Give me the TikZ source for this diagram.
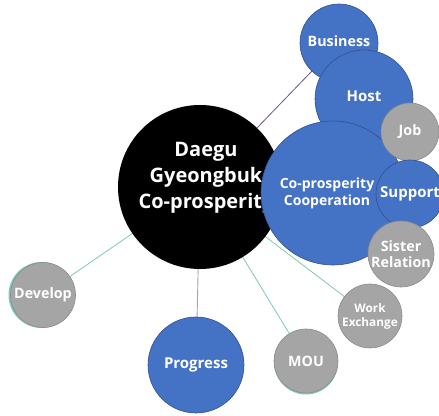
\documentclass[tikz,border=0pt]{standalone}
\usepackage{fontspec}
\setmainfont{Open Sans}
\definecolor{bblue}{HTML}{4472C4}
\definecolor{bblueline}{HTML}{34508F}
\definecolor{bgray}{HTML}{A5A5A5}
\definecolor{bgrayline}{HTML}{8C8C8C}
\definecolor{linkteal}{HTML}{7CC8BE}
\definecolor{linkplum}{HTML}{6A587C}
\definecolor{linklilac}{HTML}{A7A3BE}
\begin{document}
\begin{tikzpicture}[x=1pt,y=1pt,
  bubble/.style={circle, inner sep=0pt, text=white, align=center,
    font=\bfseries\fontsize{14.3}{16}\selectfont},
  bluebub/.style={bubble, fill=bblue, draw=bblueline, line width=0.6pt},
  graybub/.style={bubble, fill=bgray, draw=bgrayline, line width=0.6pt},
  hubbub/.style={circle, inner sep=0pt, fill=black},
  caption/.style={text=white, align=center, inner sep=0pt},
  tealink/.style={draw=linkteal, line width=0.8pt},
  plumlink/.style={draw=linkplum, line width=0.8pt},
  lilaclink/.style={draw=linklilac, line width=0.9pt},
  halo/.style={circle, inner sep=0pt, fill=linkteal}]
\useasboundingbox (0,0) rectangle (439,415);

% hub position and connector anchors
\coordinate (hubc) at (200,228);
\coordinate (businessc) at (339,372);
\coordinate (developc) at (43,120);
\coordinate (progressc) at (196,50);
\coordinate (mouc) at (306,54);
\coordinate (workc) at (370,99);
\coordinate (coopc) at (333,222);

% connectors (behind all bubbles)
\draw[plumlink] (hubc) -- (businessc);
\draw[plumlink] (hubc) -- (coopc);
\draw[tealink] (hubc) -- (developc);
\draw[lilaclink] (hubc) -- (progressc);
\draw[tealink] (hubc) -- (mouc);
\draw[tealink] (hubc) -- (workc);

% lower ring of bubbles
\node[halo, minimum size=66pt] at ([xshift=-1.5pt]developc) {};
\node[graybub, minimum size=65pt] (develop) at (developc) {Develop};
\node[bluebub, minimum size=96pt, font=\bfseries\fontsize{15}{17}\selectfont]
  (progress) at (progressc) {Progress};
\node[halo, minimum size=64pt] at ([yshift=-1.5pt]mouc) {};
\node[graybub, minimum size=64pt] (mou) at (mouc) {MOU};
\node[graybub, minimum size=64pt, font=\bfseries\fontsize{11.8}{14}\selectfont]
  (work) at (workc) {Work\\Exchange};

% central hub, its caption set slightly above centre
\node[hubbub, minimum size=164pt] (hub) at (hubc) {};
\node[caption, font=\bfseries\fontsize{20}{26}\selectfont]
  (hubcap) at ([xshift=6pt,yshift=9pt]hubc) {Daegu\\Gyeongbuk\\Co-prosperity};

% upper-right cluster
\node[bluebub, minimum size=78pt] (business) at (businessc) {\raisebox{4pt}{Business}};
\node[bluebub, minimum size=98pt, font=\bfseries\fontsize{15}{17}\selectfont]
  (host) at (364,316) {\raisebox{6pt}{Host}};
\node[bluebub, minimum size=144pt] (coop) at (coopc) {};
\node[caption, font=\bfseries\fontsize{14}{17}\selectfont]
  (coopcap) at ([xshift=-6pt]coopc) {Co-prosperity\\Cooperation};
\node[graybub, minimum size=58pt] (job) at (410,283) {Job};
\node[bluebub, minimum size=68pt, font=\bfseries\fontsize{15}{17}\selectfont]
  (support) at (410,221) {Support};
\node[graybub, minimum size=66pt] (sister) at (401,161) {Sister\\Relation};
\end{tikzpicture}
\end{document}
